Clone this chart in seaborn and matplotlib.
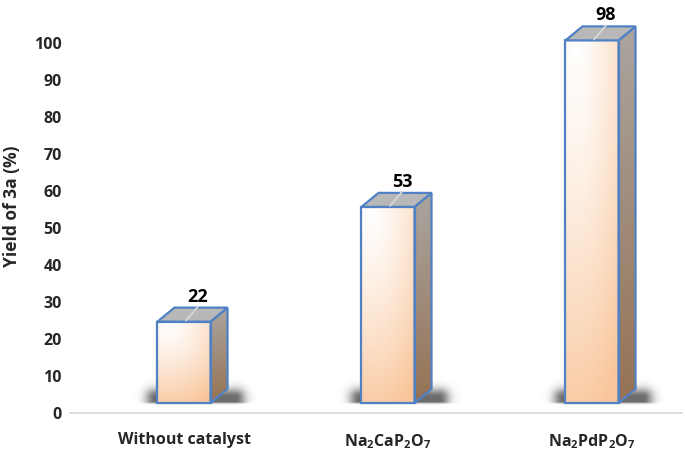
import numpy as np
import pandas as pd
import matplotlib
matplotlib.use("Agg")
import matplotlib.pyplot as plt
from matplotlib.patches import Polygon
import seaborn as sns

# data
catalysts = ["Without catalyst",
             "Na$_\\mathbf{2}$CaP$_\\mathbf{2}$O$_\\mathbf{7}$",
             "Na$_\\mathbf{2}$PdP$_\\mathbf{2}$O$_\\mathbf{7}$"]
yields = [22, 53, 98]
yticks = list(range(0, 101, 10))

sns.set_style("white")
plt.rcParams["font.family"] = ["Open Sans", "DejaVu Sans"]
plt.rcParams["font.weight"] = "bold"
plt.rcParams["mathtext.fontset"] = "custom"
plt.rcParams["mathtext.rm"] = "Open Sans:bold"
plt.rcParams["mathtext.bf"] = "Open Sans:bold"

fig = plt.figure(figsize=(6.85, 4.53), dpi=100)
ax = fig.add_axes([70 / 685, 40 / 453, 612 / 685, 413 / 453])

df = pd.DataFrame({"catalyst": catalysts, "yield": yields})
sns.barplot(data=df, x="catalyst", y="yield", width=0.26, errorbar=None, ax=ax)

# pixel -> data unit helpers
px_x = 1 / 204
px_y = 1 / 3.7
base = 10 * px_y          # bars float a little above the axis line
dx, dy = 17 * px_x, 14 * px_y
edge = "#4F81C4"

peach = np.array([249, 198, 155]) / 255
white = np.array([1.0, 1.0, 1.0])
side_top = np.array([170, 165, 160]) / 255
side_bot = np.array([150, 114, 84]) / 255

# front gradient (radial-ish from top-left)
u, v = np.meshgrid(np.linspace(0, 1, 60), np.linspace(0, 1, 200))
d = np.sqrt(((u - 0.2) / 1.2) ** 2 + (1 - v) ** 2) / 1.1
d = np.clip(d, 0, 1) ** 1.3
front_img = white * (1 - d[..., None]) + peach * d[..., None]
sv = np.linspace(0, 1, 200)[:, None, None] * np.ones((1, 20, 1))
side_img = side_bot * (1 - sv) + side_top * sv

for p, val in zip(ax.patches, yields):
    x0 = p.get_x()
    w = p.get_width()
    p.set_y(base)
    p.set_facecolor("none")
    p.set_edgecolor(edge)
    p.set_linewidth(1.6)
    p.set_zorder(5)
    x1 = x0 + w
    top = base + val

    # soft shadow behind the bar foot
    sx = np.linspace(x0 - 30 * px_x, x1 + dx + 50 * px_x, 160)
    sy = np.linspace(base - 6 * px_y, base + dy + 30 * px_y, 90)
    SX, SY = np.meshgrid(sx, sy)
    ddx = np.maximum(np.maximum(x0 - 2 * px_x - SX, SX - (x1 + dx + 8 * px_x)), 0) / px_x / 10
    below = np.maximum(base + 1 * px_y - SY, 0) / px_y / 1.5
    above = np.maximum(SY - (base + dy * 0.4), 0) / px_y / 9
    dist = np.sqrt(ddx ** 2 + below ** 2 + above ** 2)
    alpha = 0.7 * np.exp(-dist ** 2)
    shadow = np.zeros(SX.shape + (4,))
    shadow[..., :3] = 0.18
    shadow[..., 3] = alpha
    ax.imshow(shadow, extent=[sx[0], sx[-1], sy[0], sy[-1]], origin="lower",
              aspect="auto", zorder=1, interpolation="bilinear")

    # front face
    im = ax.imshow(front_img, extent=[x0, x1, base, top], origin="lower",
                   aspect="auto", zorder=3, interpolation="bilinear")
    im.set_clip_path(p)

    # side face
    side = Polygon([(x1, base), (x1 + dx, base + dy), (x1 + dx, top + dy), (x1, top)],
                   closed=True, facecolor="none", edgecolor=edge, linewidth=1.6, zorder=5)
    ax.add_patch(side)
    im2 = ax.imshow(side_img, extent=[x1, x1 + dx, base, top + dy], origin="lower",
                    aspect="auto", zorder=3, interpolation="bilinear")
    im2.set_clip_path(side)

    # top face
    ax.add_patch(Polygon([(x0, top), (x1, top), (x1 + dx, top + dy), (x0 + dx, top + dy)],
                         closed=True, facecolor="#B8B8B8", edgecolor=edge,
                         linewidth=1.6, zorder=5))

    # value label + leader line
    cx = x0 + w / 2
    ax.plot([cx + 2 * px_x, cx + 14 * px_x], [top + 1 * px_y, top + dy + 1 * px_y],
            color="#D8D8D8", lw=1.3, zorder=6)
    ax.text(cx + 14 * px_x, top + dy + 2 * px_y, str(val), ha="center", va="bottom",
            fontsize=13, fontweight="bold", color="black", zorder=7)

ax.set_xlim((70 - 184) / 204, (682 - 184) / 204)
ax.set_ylim(0, 413 / 3.7)
ax.set_yticks(yticks)
ax.set_yticklabels([str(t) for t in yticks], fontsize=11.5, fontweight="bold")
ax.set_xticks(range(len(catalysts)))
ax.set_xticklabels(catalysts, fontsize=11.5, fontweight="bold")
ax.tick_params(axis="both", length=0)
ax.tick_params(axis="y", pad=6)
ax.tick_params(axis="x", pad=14)
ax.set_xlabel("")
ax.set_ylabel("Yield of 3a (%)", fontsize=12.5, fontweight="bold", labelpad=9)

for s in ["left", "top", "right"]:
    ax.spines[s].set_visible(False)
ax.spines["bottom"].set_color("#D9D9D9")
ax.spines["bottom"].set_linewidth(1.2)

fig.savefig("out.png", dpi=100)
